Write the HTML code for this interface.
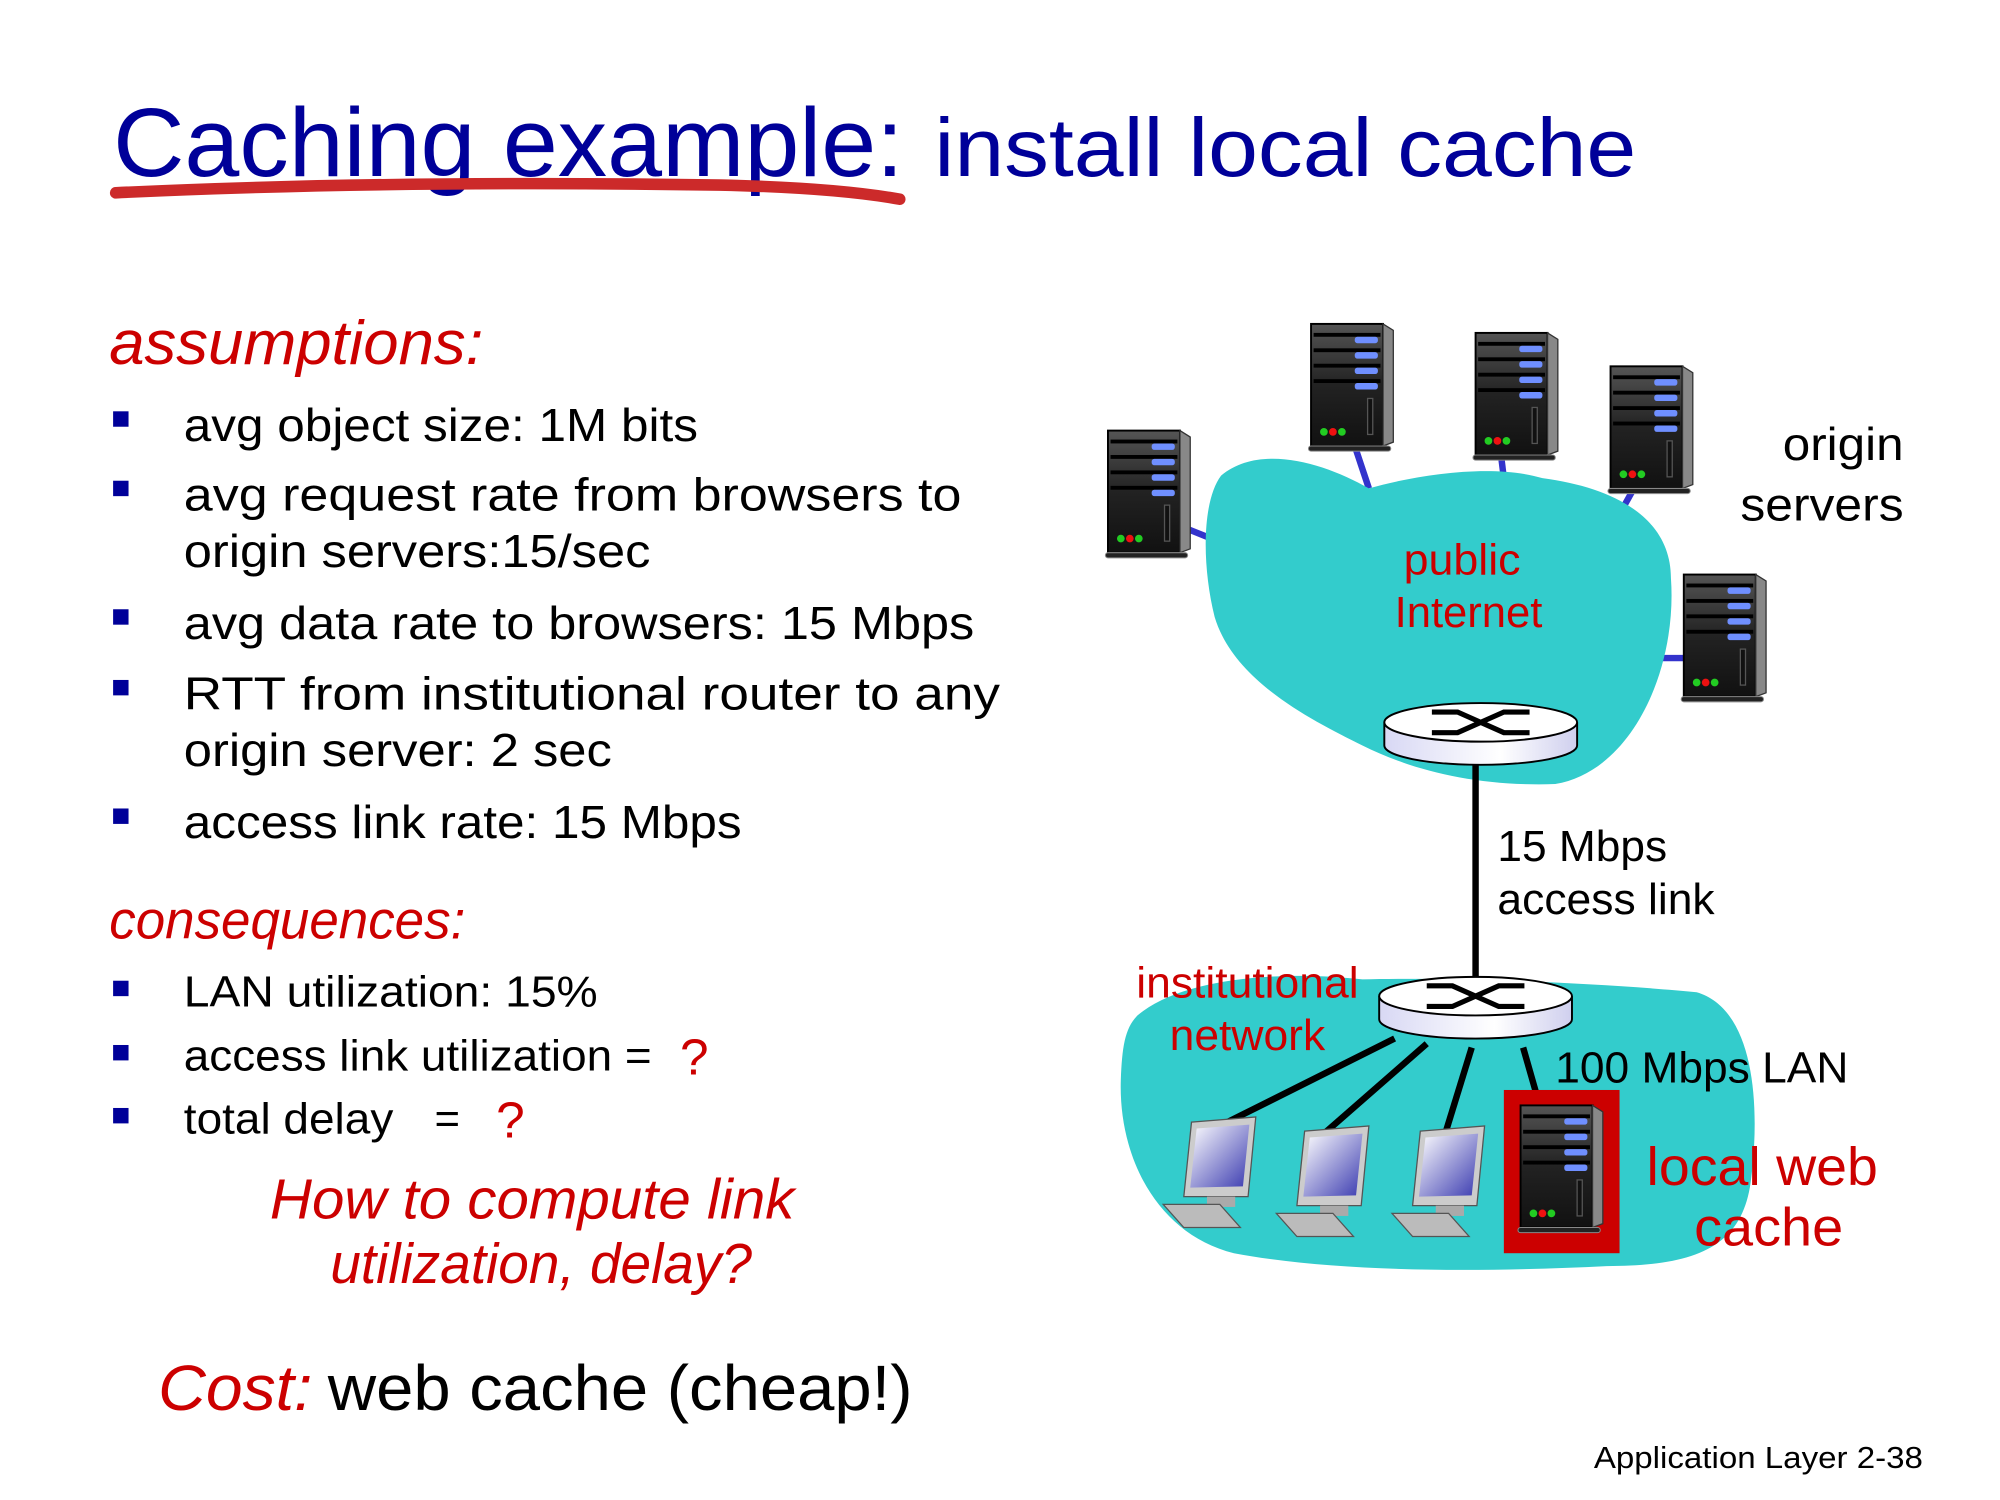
<!DOCTYPE html>
<html><head><meta charset="utf-8"><style>html,body{margin:0;padding:0;background:#fff}svg{display:block}</style></head>
<body>
<svg width="2000" height="1500" viewBox="0 0 1556 1167" preserveAspectRatio="none" xmlns="http://www.w3.org/2000/svg">
<defs>
<linearGradient id="sg" x1="0" y1="0" x2="0" y2="1"><stop offset="0" stop-color="#555"/><stop offset="0.5" stop-color="#222"/><stop offset="1" stop-color="#111"/></linearGradient>
<linearGradient id="rg" x1="0" y1="0" x2="1" y2="0"><stop offset="0" stop-color="#d8d8f4"/><stop offset="0.6" stop-color="#fff"/><stop offset="1" stop-color="#cfcfee"/></linearGradient>
<linearGradient id="pg" x1="0" y1="0" x2="1" y2="1"><stop offset="0" stop-color="#fff"/><stop offset="1" stop-color="#3a3ab0"/></linearGradient>
<g id="srv">
<rect x="0" y="0" width="56" height="95" fill="url(#sg)" stroke="#000" stroke-width="1.5"/>
<polygon points="56,0 64,5 64,92 56,95" fill="#888" stroke="#333"/>
<rect x="2" y="7" width="52" height="3" fill="#000"/><rect x="2" y="19" width="52" height="3" fill="#000"/><rect x="2" y="31" width="52" height="3" fill="#000"/><rect x="2" y="43" width="52" height="3" fill="#000"/>
<rect x="34" y="10" width="18" height="5" rx="2" fill="#6f8fff"/><rect x="34" y="22" width="18" height="5" rx="2" fill="#6f8fff"/><rect x="34" y="34" width="18" height="5" rx="2" fill="#6f8fff"/><rect x="34" y="46" width="18" height="5" rx="2" fill="#6f8fff"/>
<rect x="44" y="58" width="4" height="28" fill="#111" stroke="#555"/>
<circle cx="10" cy="84" r="3" fill="#2c2"/><circle cx="17" cy="84" r="3" fill="#e11"/><circle cx="24" cy="84" r="3" fill="#2c2"/>
<rect x="-2" y="95" width="64" height="4" rx="2" fill="#222" stroke="#888" stroke-width="0.8"/>
</g>
<g id="pc">
<polygon points="22,0 72,-4 66,58 16,58" fill="#ccc" stroke="#555"/>
<polygon points="26,5 67,2 62,50 21,51" fill="url(#pg)"/>
<rect x="34" y="58" width="22" height="8" fill="#aaa"/>
<polygon points="0,64 44,64 60,82 16,82" fill="#bbb" stroke="#555"/>
</g>
<g id="rt">
<path d="M-75,0 v18 a75,15 0 0 0 150,0 v-18" fill="url(#rg)" stroke="#000" stroke-width="1.5"/>
<ellipse cx="0" cy="0" rx="75" ry="15" fill="#fff" stroke="#000" stroke-width="1.5"/>
<path d="M-38,-8 h20 l18,8 l18,-8 h20 M-38,8 h20 l18,-8 l18,8 h20" fill="none" stroke="#000" stroke-width="4"/>
</g>
</defs>

<text x="88" y="137" font-family="Liberation Sans, sans-serif" font-size="76" fill="#000099" textLength="615" lengthAdjust="spacingAndGlyphs">Caching example:</text>
<text x="727" y="137" font-family="Liberation Sans, sans-serif" font-size="64" fill="#000099" textLength="546" lengthAdjust="spacingAndGlyphs">install local cache</text>
<path d="M90,150 Q300,140 560,144 Q650,146 700,155" stroke="#cc2a2a" stroke-width="9" fill="none" stroke-linecap="round"/>

<g font-family="Liberation Sans, sans-serif">
<text x="85" y="283" font-size="48" font-style="italic" fill="#cc0000" textLength="291" lengthAdjust="spacingAndGlyphs">assumptions:</text>
<g fill="#000099"><rect x="88" y="320" width="12" height="12"/><rect x="88" y="374" width="12" height="12"/><rect x="88" y="474" width="12" height="12"/><rect x="88" y="529" width="12" height="12"/><rect x="88" y="629" width="12" height="12"/>
<rect x="88" y="763" width="12" height="12"/><rect x="88" y="813" width="12" height="12"/><rect x="88" y="862" width="12" height="12"/></g>
<g font-size="36" fill="#000">
<text x="143" y="343" textLength="400" lengthAdjust="spacingAndGlyphs">avg object size: 1M bits</text>
<text x="143" y="397" textLength="605" lengthAdjust="spacingAndGlyphs">avg request rate from browsers to</text>
<text x="143" y="441" textLength="363" lengthAdjust="spacingAndGlyphs">origin servers:15/sec</text>
<text x="143" y="497" textLength="615" lengthAdjust="spacingAndGlyphs">avg data rate to browsers: 15 Mbps</text>
<text x="143" y="552" textLength="635" lengthAdjust="spacingAndGlyphs">RTT from institutional router to any</text>
<text x="143" y="596" textLength="333" lengthAdjust="spacingAndGlyphs">origin server: 2 sec</text>
<text x="143" y="652" textLength="434" lengthAdjust="spacingAndGlyphs">access link rate: 15 Mbps</text>
</g>
<text x="85" y="730" font-size="42" font-style="italic" fill="#cc0000" textLength="277" lengthAdjust="spacingAndGlyphs">consequences:</text>
<g font-size="34" fill="#000">
<text x="143" y="783" textLength="322" lengthAdjust="spacingAndGlyphs">LAN utilization: 15%</text>
<text x="143" y="833" textLength="364" lengthAdjust="spacingAndGlyphs">access link utilization =</text>
<text x="143" y="882" textLength="163" lengthAdjust="spacingAndGlyphs">total delay</text>
<text x="338" y="882">=</text>
</g>
<text x="529" y="836" font-size="40" fill="#cc0000">?</text>
<text x="386" y="885" font-size="40" fill="#cc0000">?</text>
<text x="210" y="948" font-size="44" font-style="italic" fill="#cc0000" textLength="408" lengthAdjust="spacingAndGlyphs">How to compute link</text>
<text x="257" y="998" font-size="44" font-style="italic" fill="#cc0000" textLength="328" lengthAdjust="spacingAndGlyphs">utilization, delay?</text>
<text x="123" y="1097" font-size="50" font-style="italic" fill="#cc0000" textLength="120" lengthAdjust="spacingAndGlyphs">Cost:</text>
<text x="255" y="1097" font-size="50" fill="#000" textLength="455" lengthAdjust="spacingAndGlyphs">web cache (cheap!)</text>
<text x="1240" y="1142" font-size="24" fill="#000" textLength="256" lengthAdjust="spacingAndGlyphs">Application Layer 2-38</text>
</g>

<g stroke="#3333cc" stroke-width="5">
<line x1="925" y1="412" x2="945" y2="420"/>
<line x1="1055" y1="350" x2="1065" y2="380"/>
<line x1="1168" y1="356" x2="1170" y2="372"/>
<line x1="1270" y1="382" x2="1260" y2="400"/>
<line x1="1310" y1="512" x2="1290" y2="512"/>
</g>
<path d="M950,370 C980,345 1030,360 1065,380 C1100,370 1160,360 1200,372 C1260,380 1300,405 1300,450 C1305,520 1270,600 1210,610 C1150,612 1100,600 1060,580 C1020,560 960,530 945,480 C935,440 935,390 950,370 Z" fill="#33cccc"/>
<path d="M885,790 C920,760 1000,755 1060,762 C1130,760 1250,765 1320,772 C1365,785 1370,860 1362,920 C1355,970 1320,985 1250,985 C1150,990 1040,990 960,975 C900,960 870,900 872,840 C873,815 875,800 885,790 Z" fill="#33cccc"/>
<line x1="1148" y1="580" x2="1148" y2="775" stroke="#000" stroke-width="5"/>
<g stroke="#000" stroke-width="5">
<line x1="1085" y1="808" x2="945" y2="878"/>
<line x1="1110" y1="812" x2="1030" y2="882"/>
<line x1="1145" y1="815" x2="1125" y2="880"/>
<line x1="1185" y1="815" x2="1195" y2="850"/>
</g>
<use href="#rt" x="1152" y="562"/>
<use href="#rt" x="1148" y="775"/>
<use href="#srv" x="862" y="335"/>
<use href="#srv" x="1020" y="252"/>
<use href="#srv" x="1148" y="259"/>
<use href="#srv" x="1253" y="285"/>
<use href="#srv" x="1310" y="447"/>
<rect x="1170" y="848" width="90" height="127" fill="#cc0000"/>
<use href="#srv" x="1183" y="860"/>
<use href="#pc" x="905" y="873"/>
<use href="#pc" x="993" y="880"/>
<use href="#pc" x="1083" y="880"/>

<g font-family="Liberation Sans, sans-serif">
<text x="1387" y="358" font-size="36" fill="#000" textLength="94" lengthAdjust="spacingAndGlyphs">origin</text>
<text x="1354" y="405" font-size="36" fill="#000" textLength="127" lengthAdjust="spacingAndGlyphs">servers</text>
<text x="1092" y="447" font-size="34" fill="#cc0000" textLength="91" lengthAdjust="spacingAndGlyphs">public</text>
<text x="1085" y="488" font-size="34" fill="#cc0000" textLength="115" lengthAdjust="spacingAndGlyphs">Internet</text>
<text x="1165" y="670" font-size="34" fill="#000" textLength="132" lengthAdjust="spacingAndGlyphs">15 Mbps</text>
<text x="1165" y="711" font-size="34" fill="#000" textLength="169" lengthAdjust="spacingAndGlyphs">access link</text>
<text x="884" y="776" font-size="34" fill="#cc0000" textLength="173" lengthAdjust="spacingAndGlyphs">institutional</text>
<text x="910" y="817" font-size="34" fill="#cc0000" textLength="121" lengthAdjust="spacingAndGlyphs">network</text>
<text x="1210" y="842" font-size="34" fill="#000" textLength="228" lengthAdjust="spacingAndGlyphs">100 Mbps LAN</text>
<text x="1281" y="922" font-size="42" fill="#cc0000" textLength="180" lengthAdjust="spacingAndGlyphs">local web</text>
<text x="1318" y="969" font-size="42" fill="#cc0000" textLength="116" lengthAdjust="spacingAndGlyphs">cache</text>
</g>
</svg>
</body></html>
